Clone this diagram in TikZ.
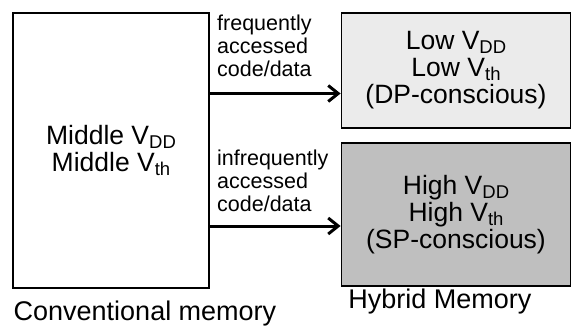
\documentclass[tikz,border=0pt]{standalone}
\usepackage{fontspec}
\setmainfont{Liberation Sans}
\usetikzlibrary{arrows.meta}
\newcommand\vsub[1]{\raisebox{-.14em}{\fontsize{18.5}{18.5}\selectfont #1}}

\begin{document}
\begin{tikzpicture}[x=1pt,y=-1pt,
    membox/.style={draw, line width=1.8pt, inner sep=0pt, align=center,
      font=\fontsize{26.5}{27}\selectfont},
    arr/.style={line width=3pt, -{Straight Barb[length=10pt,width=16pt,line width=3pt]}},
    lbl/.style={inner sep=0pt, align=left, anchor=north west,
      font=\fontsize{21.5}{23}\selectfont},
    captxt/.style={inner sep=0pt, anchor=base, font=\fontsize{27}{30}\selectfont}]
    \useasboundingbox (0,0) rectangle (572,325);
    \node[membox, minimum width=196pt, minimum height=275pt] (conv) at (111,150.5)
      {Middle V\vsub{DD}\\Middle V\vsub{th}};
    \node[membox, fill=black!8, minimum width=229pt, minimum height=115pt] (lowmem) at (456,70.5)
      {Low V\vsub{DD}\\Low V\vsub{th}\\(DP-conscious)};
    \node[membox, fill=black!25, minimum width=229pt, minimum height=143pt] (highmem) at (456,214.5)
      {High V\vsub{DD}\\High V\vsub{th}\\(SP-conscious)};
    % arrows into hybrid memory
    \coordinate (fa) at (0,93.5);
    \coordinate (ia) at (0,226);
    \draw[arr] (conv.east |- fa) -- (lowmem.west |- fa);
    \draw[arr] (conv.east |- ia) -- (highmem.west |- ia);
    \node[lbl] (freq) at (217,15) {frequently\\accessed\\code/data};
    \node[lbl] (infreq) at (217,150) {infrequently\\accessed\\code/data};
    \node[captxt] (convcap) at (145,320) {Conventional memory};
    \node[captxt] (hybcap) at (440,308) {Hybrid Memory};
\end{tikzpicture}
\end{document}
